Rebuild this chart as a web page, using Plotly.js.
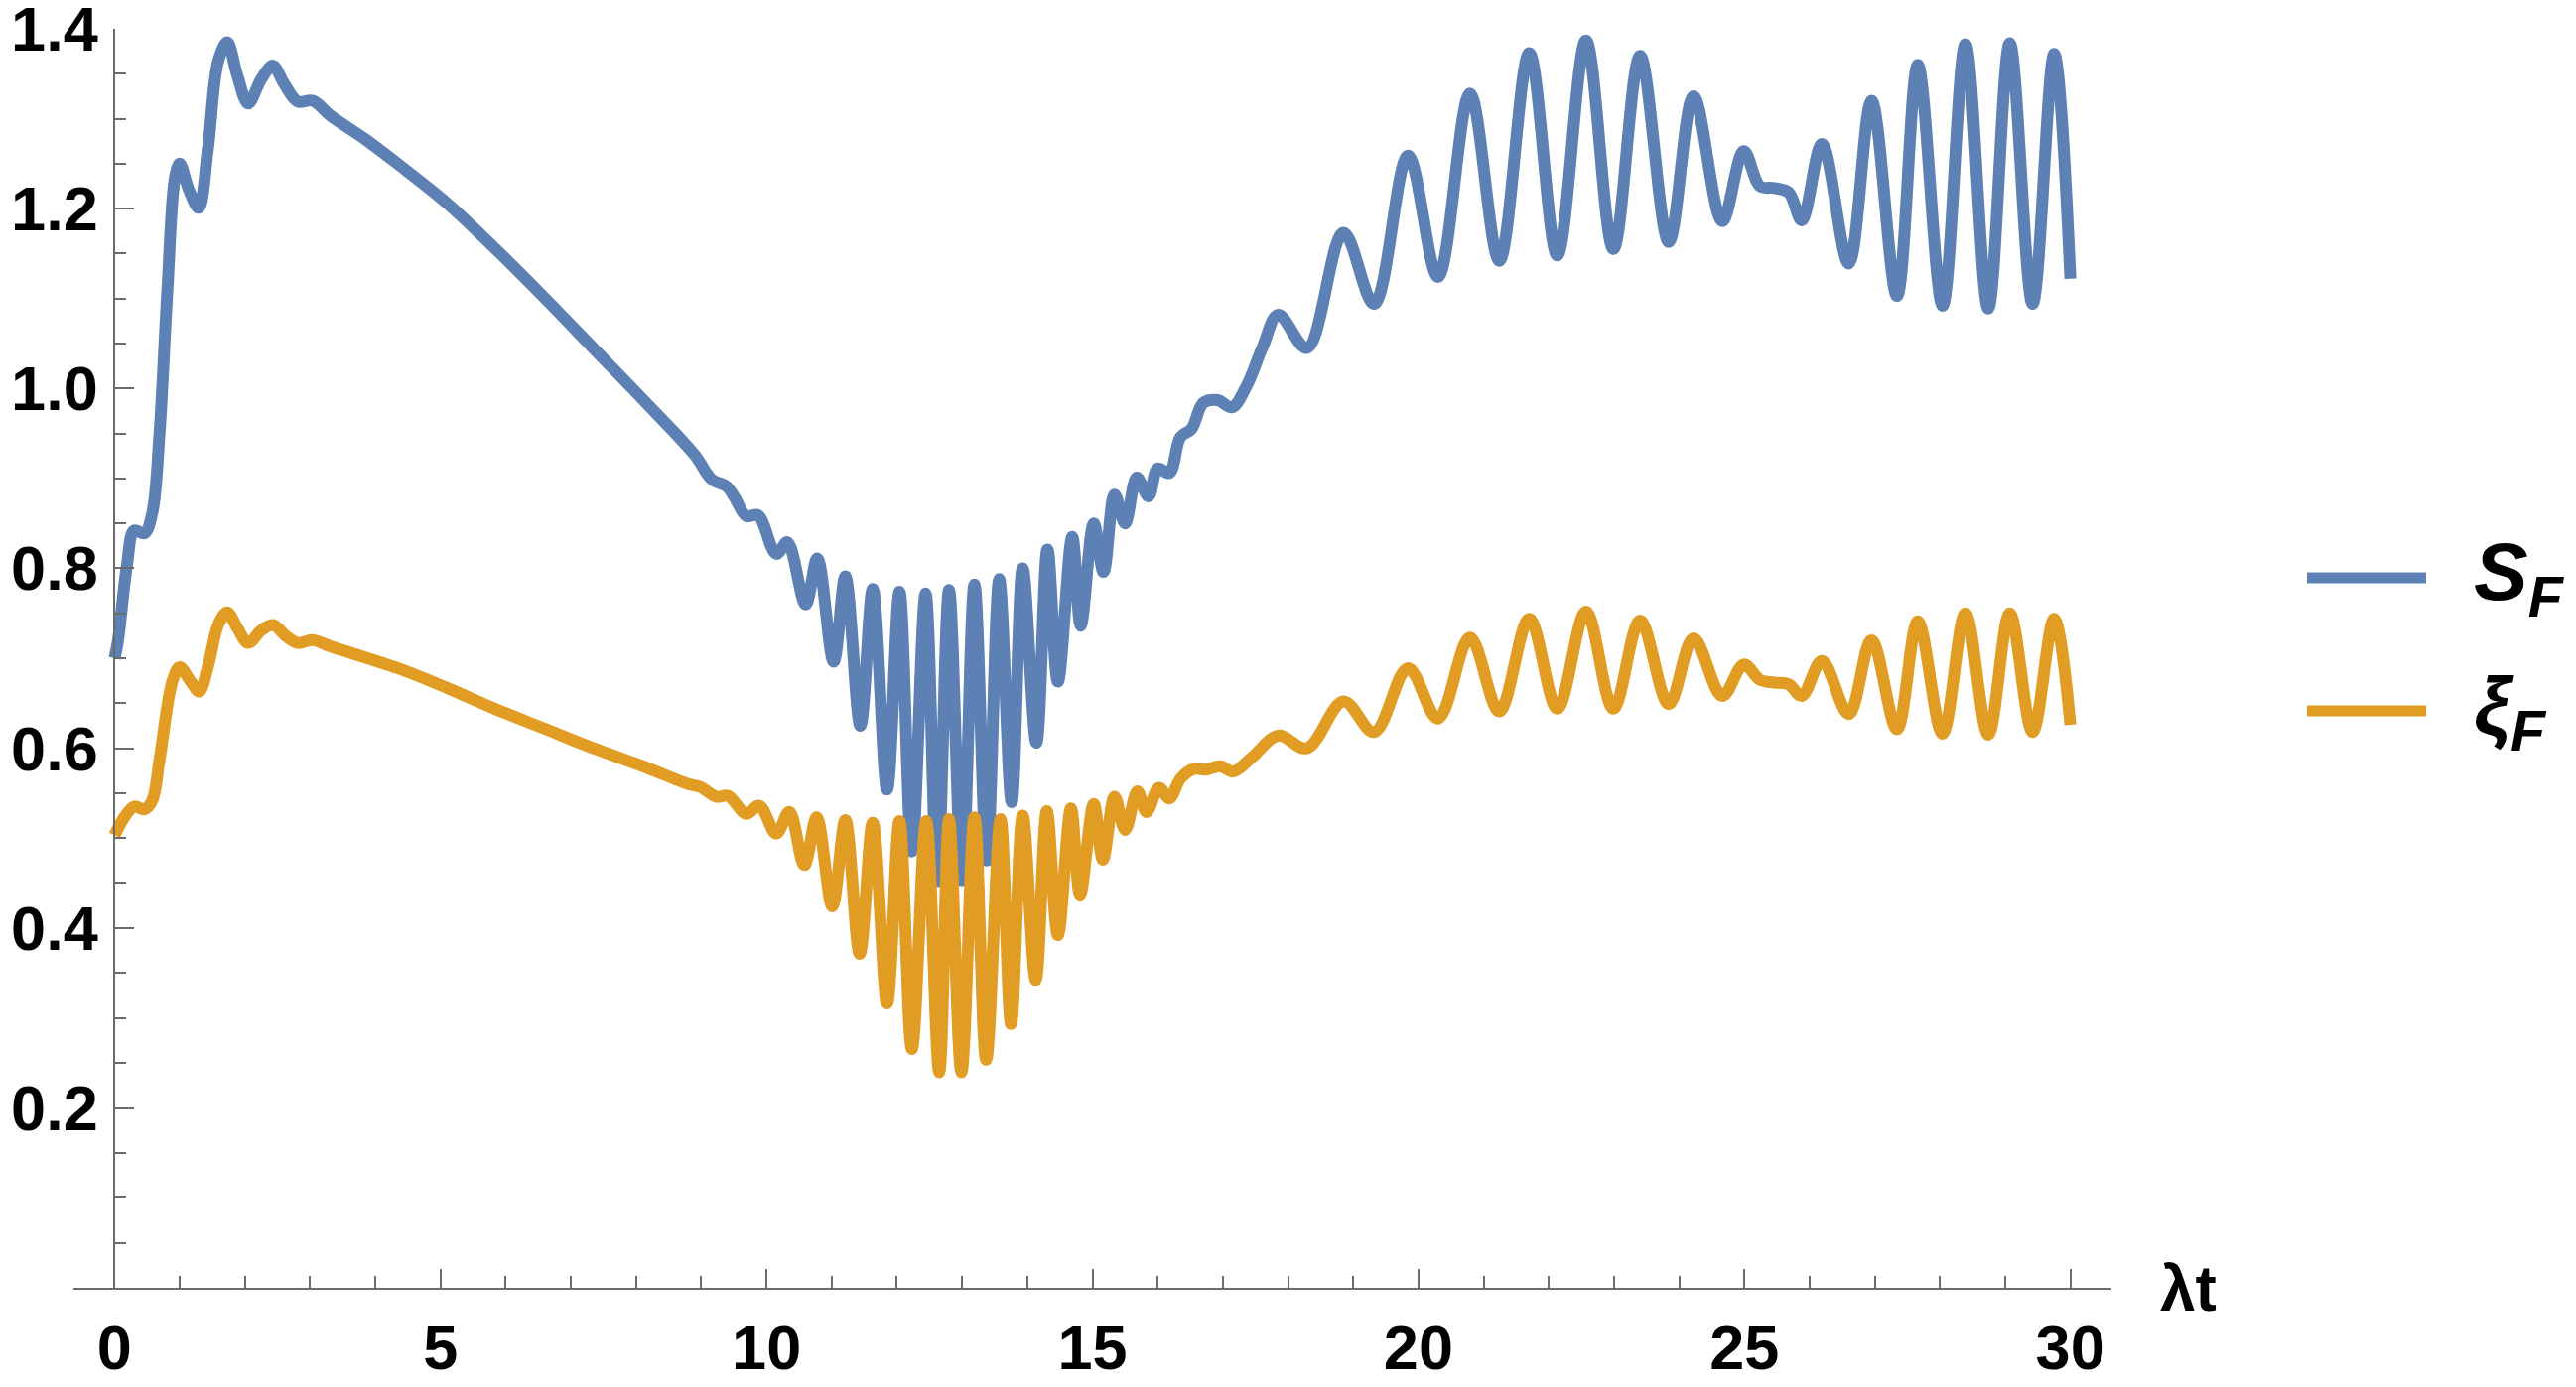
<!DOCTYPE html>
<html>
<head>
<meta charset="utf-8">
<script src="https://cdn.plot.ly/plotly-3.0.1.min.js"></script>
<style>
    html, body { margin: 0; padding: 0; background: #ffffff; }
    #chart { width: 2595px; height: 1397px; }
</style>
</head>
<body>
<div id="chart"></div>
<script>
/* S_F and xi_F against lambda*t (extrema + shoulders) */

const tS = [
    0, 0.05, 0.19, 0.30, 0.46, 0.58, 0.69, 0.81, 0.93, 1.00, 1.14, 1.29, 1.43, 1.59, 1.73,
    1.88, 2.05, 2.25, 2.43, 2.60, 2.81, 3.04, 3.32, 3.83, 4.34, 5.10, 5.86, 6.62, 7.38,
    8.14, 8.90, 9.16, 9.39, 9.51, 9.69, 9.87, 10.15, 10.32, 10.60,
    10.78, 11.03, 11.21, 11.44, 11.63, 11.85, 12.04, 12.23, 12.44, 12.62, 12.80, 13.00,
    13.19, 13.38, 13.57, 13.76, 13.93, 14.14, 14.31, 14.47, 14.69, 14.82, 15.02, 15.17,
    15.34, 15.50, 15.68, 15.86, 16.00, 16.18, 16.35, 16.52, 16.70, 16.92, 17.14, 17.36,
    17.61, 17.85, 18.29, 18.85, 19.32, 19.84, 20.30, 20.79, 21.24, 21.70, 22.13, 22.57,
    22.99, 23.40, 23.84, 24.22, 24.66, 24.99, 25.24, 25.46, 25.68, 25.88, 26.19, 26.60,
    26.95, 27.34, 27.66, 28.04, 28.39, 28.74, 29.07, 29.42, 29.75, 30.00
];

const sF = [
    0.700, 0.718, 0.803, 0.842, 0.839, 0.862, 0.950, 1.108, 1.236, 1.250, 1.221, 1.201,
    1.265, 1.364, 1.385, 1.349, 1.317, 1.344, 1.359, 1.339, 1.319, 1.320, 1.303, 1.278,
    1.250, 1.206, 1.154, 1.099, 1.042, 0.985, 0.926, 0.899, 0.891, 0.879, 0.858, 0.859,
    0.816, 0.829, 0.760,
    0.811, 0.696, 0.791, 0.625, 0.777, 0.554, 0.774, 0.485, 0.772, 0.452, 0.776, 0.453,
    0.782, 0.475, 0.788, 0.540, 0.800, 0.606, 0.821, 0.674, 0.835, 0.736, 0.850, 0.796,
    0.882, 0.850, 0.901, 0.880, 0.911, 0.906, 0.946, 0.955, 0.984, 0.987, 0.979, 1.002,
    1.046, 1.082, 1.045, 1.173, 1.094, 1.259, 1.124, 1.328, 1.142, 1.373, 1.148, 1.387,
    1.155, 1.370, 1.163, 1.325, 1.186, 1.264, 1.225, 1.223, 1.218, 1.187, 1.272, 1.139,
    1.320, 1.103, 1.360, 1.092, 1.383, 1.089, 1.384, 1.094, 1.372, 1.122
];

const tXi = [
    0, 0.15, 0.30, 0.46, 0.58, 0.69, 0.89, 1.00, 1.16, 1.30, 1.43, 1.60, 1.73, 1.88, 2.05,
    2.25, 2.43, 2.64, 2.81, 3.04, 3.32, 4.34, 5.10, 5.86, 6.62, 7.38, 8.14, 8.80, 8.98,
    9.23, 9.41, 9.69, 9.89, 10.15, 10.35, 10.58,
    10.77, 11.01, 11.21, 11.43, 11.63, 11.85, 12.04, 12.23, 12.45, 12.65, 12.80, 12.99,
    13.19, 13.37, 13.59, 13.75, 13.93, 14.13, 14.30, 14.47, 14.67, 14.81, 15.02, 15.16,
    15.34, 15.50, 15.69, 15.83, 16.02, 16.18, 16.35, 16.56, 16.73, 16.96, 17.16, 17.45,
    17.85, 18.29, 18.85, 19.32, 19.84, 20.30, 20.79, 21.24, 21.70, 22.13, 22.57, 22.99,
    23.40, 23.84, 24.22, 24.66, 24.99, 25.24, 25.46, 25.68, 25.88, 26.19, 26.60, 26.95,
    27.34, 27.66, 28.04, 28.39, 28.74, 29.07, 29.42, 29.75, 30.00
];

const xiF = [
    0.503, 0.523, 0.535, 0.532, 0.542, 0.587, 0.675, 0.690, 0.675, 0.663, 0.690, 0.739,
    0.751, 0.734, 0.717, 0.731, 0.737, 0.724, 0.717, 0.720, 0.713, 0.689, 0.667, 0.643,
    0.621, 0.599, 0.579, 0.560, 0.557, 0.546, 0.547, 0.527, 0.536, 0.505, 0.529, 0.470,
    0.523, 0.424, 0.520, 0.371, 0.517, 0.317, 0.519, 0.265, 0.519, 0.239, 0.521, 0.239,
    0.523, 0.253, 0.521, 0.294, 0.525, 0.342, 0.530, 0.392, 0.533, 0.437, 0.538, 0.476,
    0.546, 0.509, 0.552, 0.529, 0.556, 0.544, 0.566, 0.577, 0.576, 0.580, 0.574, 0.590,
    0.614, 0.600, 0.652, 0.618, 0.689, 0.633, 0.723, 0.641, 0.744, 0.644, 0.752, 0.644,
    0.742, 0.649, 0.722, 0.658, 0.693, 0.676, 0.673, 0.671, 0.658, 0.697, 0.638, 0.720,
    0.621, 0.741, 0.616, 0.750, 0.615, 0.750, 0.618, 0.744, 0.626
];

const xTickVals = [0, 5, 10, 15, 20, 25, 30];
const xTickText = ["0", "5", "10", "15", "20", "25", "30"];
const yTickVals = [0.2, 0.4, 0.6, 0.8, 1.0, 1.2, 1.4];
const yTickText = ["0.2", "0.4", "0.6", "0.8", "1.0", "1.2", "1.4"];

const seriesNames = [
    "<b><i>S</i></b><sub><b><i>F</i></b></sub>",
    "<b><i>ξ</i></b><sub><b><i>F</i></b></sub>"
];
const xTitle = "<b>λt</b>";

const COLORS = ["#5E81B5", "#E19C24"];
const AXIS_COLOR = "#6b6b6b";
const FONT = "'Liberation Sans', Arial, sans-serif";

// page geometry, in px
const W = 2595;
const H = 1397;
const M = { l: 74, r: 468, t: 29, b: 100 };
const X_RANGE = [-0.63, 30.63];
const Y_RANGE = [0, 1.4];

const plotW = W - M.l - M.r;
const plotH = H - M.t - M.b;

function paperX(px) {
    return (px - M.l) / plotW;
}

function paperY(px) {
    return (H - M.b - px) / plotH;
}

function buildTrace(x, y, i) {
    return {
        x,
        y,
        type: "scatter",
        mode: "lines",
        name: seriesNames[i],
        showlegend: false,
        hoverinfo: "skip",
        line: {
            color: COLORS[i],
            width: 12,
            shape: "spline",
            smoothing: 1
        }
    };
}

const tickFont = {
    family: FONT,
    size: 63,
    color: "#000000",
    weight: "bold"
};

// hand-drawn legend: long swatches like the original
const legendRows = [582, 716];
const shapes = legendRows.map((py, i) => ({
    type: "line",
    xref: "paper",
    yref: "paper",
    x0: paperX(2324),
    x1: paperX(2444),
    y0: paperY(py),
    y1: paperY(py),
    line: { color: COLORS[i], width: 11 }
}));

const annotations = legendRows.map((py, i) => ({
    xref: "paper",
    yref: "paper",
    x: paperX(2490),
    y: paperY(py),
    xanchor: "left",
    yanchor: "middle",
    showarrow: false,
    text: seriesNames[i],
    font: { family: FONT, size: 82, color: "#000000" }
}));

annotations.push({
    xref: "paper",
    yref: "paper",
    x: paperX(2174),
    y: paperY(1298),
    xanchor: "left",
    yanchor: "middle",
    showarrow: false,
    text: xTitle,
    font: { family: FONT, size: 64, color: "#000000" }
});

const layout = {
    width: W,
    height: H,
    paper_bgcolor: "#ffffff",
    plot_bgcolor: "#ffffff",
    margin: M,
    showlegend: false,

    xaxis: {
        range: X_RANGE,
        showgrid: false,
        zeroline: false,
        showline: true,
        linecolor: AXIS_COLOR,
        linewidth: 2,
        ticks: "inside",
        ticklen: 19,
        tickwidth: 2,
        tickcolor: AXIS_COLOR,
        tickmode: "array",
        tickvals: xTickVals,
        ticktext: xTickText,
        ticklabelstandoff: 4,
        ticklabeloverflow: "allow",
        tickfont: tickFont,
        minor: {
            ticks: "inside",
            ticklen: 12,
            tickwidth: 2,
            tickcolor: AXIS_COLOR,
            tick0: 0,
            dtick: 1,
            showgrid: false
        }
    },

    yaxis: {
        range: Y_RANGE,
        anchor: "free",
        position: paperX(115.3),
        showgrid: false,
        zeroline: false,
        showline: true,
        linecolor: AXIS_COLOR,
        linewidth: 2,
        ticks: "inside",
        ticklen: 19,
        tickwidth: 2,
        tickcolor: AXIS_COLOR,
        tickmode: "array",
        tickvals: yTickVals,
        ticktext: yTickText,
        ticklabelstandoff: 3,
        ticklabeloverflow: "allow",
        tickfont: tickFont,
        minor: {
            ticks: "inside",
            ticklen: 11,
            tickwidth: 2,
            tickcolor: AXIS_COLOR,
            tick0: 0,
            dtick: 0.05,
            showgrid: false
        }
    },

    shapes,
    annotations
};

Plotly.newPlot(
    "chart",
    [
        buildTrace(tS, sF, 0),
        buildTrace(tXi, xiF, 1)
    ],
    layout,
    { staticPlot: true, displayModeBar: false }
);
</script>
</body>
</html>
